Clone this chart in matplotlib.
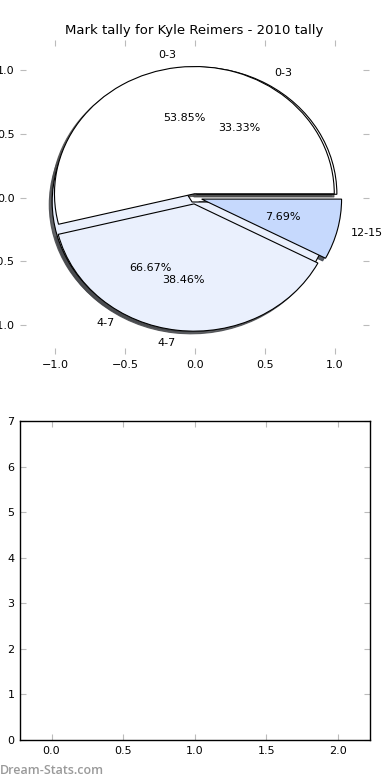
import matplotlib
matplotlib.use("Agg")
import matplotlib.pyplot as plt

labels_a = ['0-3', '4-7', '12-15']
values_a = [7, 5, 1]
labels_b = ['0-3', '4-7']
values_b = [1, 2]
colors_a = ['#ffffff', '#eaf0fd', '#c6d9fd']
colors_b = ['#ffffff', '#eaf0fd']
bar_xticks = [0.0, 0.5, 1.0, 1.5, 2.0]
bar_yticks = [0, 1, 2, 3, 4, 5, 6, 7]

plt.rcParams['font.family'] = ['DejaVu Sans']
fig = plt.figure(figsize=(3.9, 7.8), dpi=100)

shadow_style = {'ox': -0.015, 'oy': -0.015, 'shade': 0.7, 'alpha': 0.85}

ax1 = fig.add_axes([0.0513, 0.546, 0.895, 0.403])
ax1.pie(values_b, labels=labels_b, colors=colors_b, autopct='%1.2f%%',
        explode=(0.03, 0.04), shadow=shadow_style,
        wedgeprops=dict(edgecolor='black', linewidth=0.8),
        textprops=dict(fontsize=8))
ax1.pie(values_a, labels=labels_a, colors=colors_a, autopct='%1.2f%%',
        explode=(0.03, 0.05, 0.05), shadow=shadow_style,
        wedgeprops=dict(edgecolor='black', linewidth=0.8),
        textprops=dict(fontsize=8))
ax1.set_aspect('auto')
ax1.set_xlim(-1.25, 1.245)
ax1.set_ylim(-1.23, 1.24)
ax1.set_frame_on(False)
ax1.set_xticks([-1.0, -0.5, 0.0, 0.5, 1.0])
ax1.set_yticks([-1.0, -0.5, 0.0, 0.5, 1.0])
ax1.tick_params(direction='in', length=4, color='#bbbbbb', labelsize=8,
                top=True, right=True, pad=4)
ax1.set_title('Mark tally for Kyle Reimers - 2010 tally', fontsize=9.5, pad=4)

ax2 = fig.add_axes([0.0513, 0.0513, 0.898, 0.409])
ax2.set_xlim(-0.22, 2.225)
ax2.set_ylim(0, 7)
ax2.set_xticks(bar_xticks)
ax2.set_yticks(bar_yticks)
ax2.tick_params(direction='in', length=4, color='#bbbbbb', labelsize=8,
                top=True, right=True, pad=4)
for s in ax2.spines.values():
    s.set_linewidth(1.0)

fig.text(0.0, 0.004, 'Dream-Stats.com', fontsize=9, color='#9a9a9a',
         family='Open Sans', fontweight='semibold', ha='left', va='bottom')

fig.savefig('out.png', dpi=100)
